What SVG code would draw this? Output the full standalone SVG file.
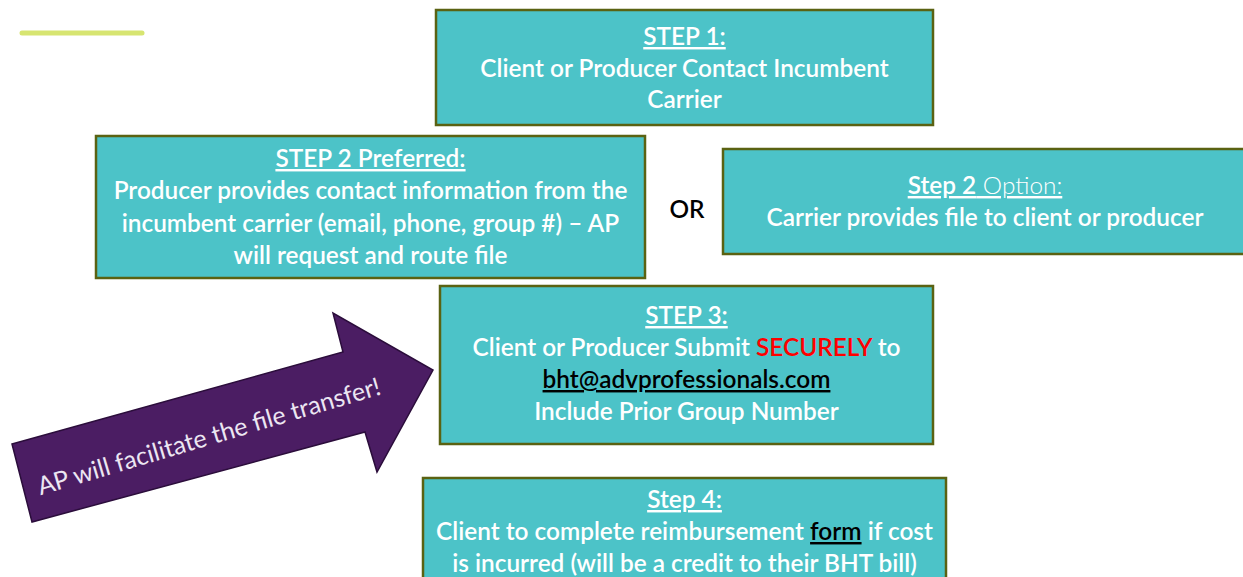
<svg xmlns="http://www.w3.org/2000/svg" width="1243" height="577" viewBox="0 0 1243 577">
<style>
.box{fill:#4cc3c8;stroke:#5a6212;stroke-width:2.5}
.t{font-family:Lato,"Liberation Sans",sans-serif;font-size:24.4px;font-weight:600;fill:#ffffff;text-anchor:middle}
.u{text-decoration:underline}
.k{fill:#000000}
.r{fill:#ff0000}
</style>
<rect width="1243" height="577" fill="#ffffff"/>
<line x1="22" y1="33" x2="142" y2="33" stroke="#d7e571" stroke-width="5" stroke-linecap="round"/>
<g id="step1">
<rect class="box" x="436" y="10" width="497" height="115"/>
<text class="t" x="684.5" y="45"><tspan class="u">STEP 1:</tspan></text>
<text class="t" x="684.5" y="77">Client or Producer Contact Incumbent</text>
<text class="t" x="684.5" y="108">Carrier</text>
</g>
<g id="step2pref">
<rect class="box" x="96" y="136" width="549" height="142"/>
<text class="t" x="370.5" y="167"><tspan class="u">STEP 2 Preferred:</tspan></text>
<text class="t" x="370.5" y="199">Producer provides contact information from the</text>
<text class="t" x="370.5" y="232">incumbent carrier (email, phone, group #) – AP</text>
<text class="t" x="370.5" y="264">will request and route file</text>
</g>
<g id="or">
<text class="t k" x="687" y="218">OR</text>
</g>
<g id="step2opt">
<rect class="box" x="723" y="149" width="530" height="105"/>
<text class="t" x="985" y="194"><tspan class="u">Step 2</tspan><tspan class="u" font-weight="300"> Option:</tspan></text>
<text class="t" x="985" y="226">Carrier provides file to client or producer</text>
</g>
<g id="step3">
<rect class="box" x="440" y="286" width="493" height="158"/>
<text class="t" x="686.5" y="324"><tspan class="u">STEP 3:</tspan></text>
<text class="t" x="686.5" y="356">Client or Producer Submit <tspan class="r">SECURELY</tspan> to</text>
<text class="t k u" x="686.5" y="388">bht@advprofessionals.com</text>
<text class="t" x="686.5" y="420">Include Prior Group Number</text>
</g>
<g id="step4">
<rect class="box" x="423" y="478" width="523" height="110"/>
<text class="t" x="684.5" y="508"><tspan class="u">Step 4:</tspan></text>
<text class="t" x="684.5" y="540">Client to complete reimbursement <tspan class="k u">form</tspan> if cost</text>
<text class="t" x="684.5" y="572">is incurred (will be a credit to their BHT bill)</text>
</g>
<g id="arrow">
<polygon points="12,444 343,352 333,313 433,370 377,472 365,432 32,522" fill="#4b1d63" stroke="#2b0d3b" stroke-width="1.5" stroke-linejoin="miter"/>
<text x="209" y="445" font-family="Lato,'Liberation Sans',sans-serif" font-size="25" fill="#ece6f2" text-anchor="middle" transform="rotate(-16.5 209 437)">AP will facilitate the file transfer!</text>
</g>
<g id="connectors"></g>
</svg>
